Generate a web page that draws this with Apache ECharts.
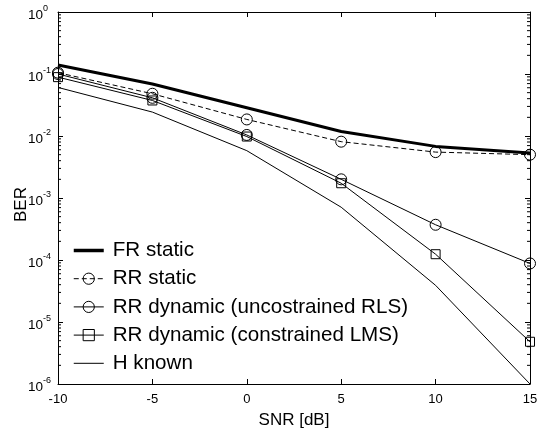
<!DOCTYPE html>
<html>
<head>
<meta charset="utf-8">
<script src="https://cdn.jsdelivr.net/npm/echarts@6/dist/echarts.min.js"></script>
<style>html,body{margin:0;padding:0;background:#fff}#c{width:543px;height:430px}</style>
</head>
<body>
<div id="c"></div>
<script>
var snr = [-10, -5, 0, 5, 10, 15];
var frStatic = [0.14, 0.069, 0.0285, 0.0118, 0.0068, 0.0053];
var rrStatic = [0.105, 0.048, 0.0185, 0.0081, 0.0055, 0.0050];
var rrDynRLS = [0.1, 0.0413, 0.0104, 0.0020, 3.7e-4, 8.8e-5];
var rrDynLMS = [0.089, 0.0374, 0.0098, 0.00173, 1.24e-4, 4.8e-6];
var hKnown = [0.0607, 0.0243, 0.0058, 7.1e-4, 3.9e-5, 1.0e-6];
var seriesNames = ['FR static', 'RR static', 'RR dynamic (uncostrained RLS)', 'RR dynamic (constrained LMS)', 'H known'];
var yTickExp = ['0', '-1', '-2', '-3', '-4', '-5', '-6'];

var FONT = '"Liberation Sans", Arial, sans-serif';
var DASH = [5, 3];
function pairs(v) { return snr.map(function (x, i) { return [x, v[i]]; }); }
var chart = echarts.init(document.getElementById('c'), null, { renderer: 'canvas' });

var openItem = { color: 'rgba(255,255,255,0)', borderColor: '#000', borderWidth: 1 };
var hiddenIcon = { color: 'rgba(0,0,0,0)', borderColor: 'rgba(0,0,0,0)', borderWidth: 0 };
var openIcon = { color: 'rgba(255,255,255,0)', borderColor: '#000', borderWidth: 1, borderType: 'solid' };
var option = {
  animation: false,
  backgroundColor: '#fff',
  grid: { left: 58, right: 13, top: 12, bottom: 46, containLabel: false, outerBoundsMode: 'none' },
  legend: {
    orient: 'vertical', left: 72, top: 240, padding: 0,
    itemWidth: 30, itemHeight: 14, itemGap: 7.2,
    textStyle: { fontFamily: FONT, fontSize: 20.6, color: '#000', lineHeight: 20, padding: [0, 0, 0, 4] },
    data: [
      { name: seriesNames[0], itemStyle: hiddenIcon, lineStyle: { color: '#000', width: 3.5, type: 'solid' } },
      { name: seriesNames[1], itemStyle: openIcon, lineStyle: { color: '#000', width: 1, type: DASH } },
      { name: seriesNames[2], itemStyle: openIcon, lineStyle: { color: '#000', width: 1, type: 'solid' } },
      { name: seriesNames[3], itemStyle: openIcon, lineStyle: { color: '#000', width: 1, type: 'solid' } },
      { name: seriesNames[4], itemStyle: hiddenIcon, lineStyle: { color: '#000', width: 1, type: 'solid' } }
    ]
  },
  graphic: [{
    type: 'text', x: 13, y: 222, rotation: Math.PI / 2, silent: true,
    style: { text: 'BER', fontFamily: FONT, fontSize: 17, fill: '#000', textAlign: 'left', textVerticalAlign: 'top' }
  }],
  xAxis: [{
    type: 'value', min: -10, max: 15, interval: 5, position: 'bottom',
    name: 'SNR [dB]', nameLocation: 'middle', nameGap: 28,
    nameTextStyle: { fontFamily: FONT, fontSize: 17, color: '#000' },
    axisLine: { show: true, onZero: false, lineStyle: { color: '#000', width: 1 } },
    axisTick: { show: true, inside: true, length: 5, lineStyle: { color: '#000' } },
    axisLabel: { fontFamily: FONT, fontSize: 13, color: '#000', margin: 9 },
    splitLine: { show: false }
  }, {
    type: 'value', min: -10, max: 15, interval: 5, position: 'top',
    axisLine: { show: true, onZero: false, lineStyle: { color: '#000', width: 1 } },
    axisTick: { show: true, inside: true, length: 5, lineStyle: { color: '#000' } },
    axisLabel: { show: false }, splitLine: { show: false }
  }],
  yAxis: [{
    type: 'log', logBase: 10, min: 1e-6, max: 1, position: 'left',
    axisLine: { show: true, onZero: false, lineStyle: { color: '#000', width: 1 } },
    axisTick: { show: true, inside: true, length: 5, lineStyle: { color: '#000' } },
    axisLabel: {
      fontFamily: FONT, color: '#000', margin: 30, align: 'left',
      formatter: function (v) {
        var e = Math.round(Math.log10(v));
        var s = yTickExp[-e] !== undefined ? yTickExp[-e] : String(e);
        return '{b|10}{s|' + s + '}';
      },
      rich: {
        b: { fontFamily: FONT, fontSize: 13.5, color: '#000', padding: [6, 0, 0, 0] },
        s: { fontFamily: FONT, fontSize: 9, color: '#000', padding: [0, 0, 6, 0] }
      }
    },
    splitLine: { show: false }
  }, {
    type: 'log', logBase: 10, min: 1e-6, max: 1, position: 'right',
    axisLine: { show: true, onZero: false, lineStyle: { color: '#000', width: 1 } },
    axisTick: { show: true, inside: true, length: 5, lineStyle: { color: '#000' } },
    axisLabel: { show: false }, splitLine: { show: false }
  }],
  series: [
    { name: seriesNames[0], type: 'line', data: pairs(frStatic), symbol: 'none',
      lineStyle: { color: '#000', width: 3 }, itemStyle: { color: '#000' } },
    { name: seriesNames[1], type: 'line', data: pairs(rrStatic), symbol: 'circle', symbolSize: 11,
      lineStyle: { color: '#000', width: 1, type: DASH }, itemStyle: openItem },
    { name: seriesNames[2], type: 'line', data: pairs(rrDynRLS), symbol: 'circle', symbolSize: 11,
      lineStyle: { color: '#000', width: 1 }, itemStyle: openItem },
    { name: seriesNames[3], type: 'line', data: pairs(rrDynLMS), symbol: 'rect', symbolSize: 9,
      lineStyle: { color: '#000', width: 1 }, itemStyle: openItem },
    { name: seriesNames[4], type: 'line', data: pairs(hKnown), symbol: 'none',
      lineStyle: { color: '#000', width: 1 }, itemStyle: { color: '#000' } }
  ]
};
chart.setOption(option);

// log minor ticks (2..9 x 10^k) on left and right axes, placed through the axis scale
var xl = chart.convertToPixel({ xAxisIndex: 0 }, -10);
var xr = chart.convertToPixel({ xAxisIndex: 0 }, 15);
var els = [];
for (var k = -6; k < 0; k++) {
  for (var m = 2; m <= 9; m++) {
    var y = chart.convertToPixel({ yAxisIndex: 0 }, m * Math.pow(10, k));
    els.push({ type: 'line', shape: { x1: xl, y1: y, x2: xl + 3, y2: y }, style: { stroke: '#000', lineWidth: 1 }, silent: true });
    els.push({ type: 'line', shape: { x1: xr, y1: y, x2: xr - 3, y2: y }, style: { stroke: '#000', lineWidth: 1 }, silent: true });
  }
}
chart.setOption({ graphic: option.graphic.concat(els) });
</script>
</body>
</html>
